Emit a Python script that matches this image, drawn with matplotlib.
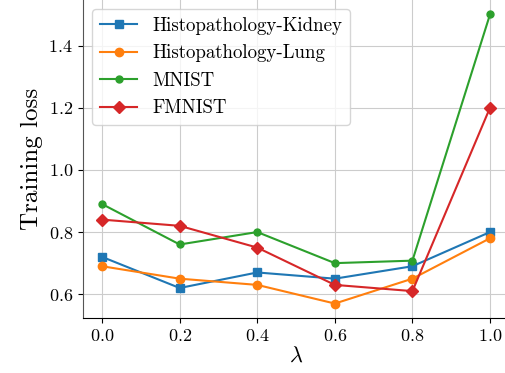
import matplotlib
matplotlib.use("Agg")
import matplotlib.pyplot as plt

plt.rcParams['font.family'] = 'serif'
plt.rcParams['font.serif'] = ['cmr10']
plt.rcParams['mathtext.fontset'] = 'cm'
plt.rcParams['axes.formatter.use_mathtext'] = True

lambdas = [0.0, 0.2, 0.4, 0.6, 0.8, 1.0]
kidney = [0.72, 0.62, 0.67, 0.65, 0.69, 0.80]
lung = [0.69, 0.65, 0.63, 0.57, 0.65, 0.78]
mnist = [0.89, 0.76, 0.80, 0.70, 0.708, 1.50]
fmnist = [0.84, 0.82, 0.75, 0.63, 0.61, 1.20]

fig = plt.figure(figsize=(5.06, 3.73), dpi=100)
ax = fig.add_axes([82.7 / 506, 55 / 373, 426.7 / 506, 318 / 373])

ax.plot(lambdas, kidney, marker='s', color='#1f77b4', label='Histopathology-Kidney')
ax.plot(lambdas, lung, marker='o', color='#ff7f0e', label='Histopathology-Lung')
ax.plot(lambdas, mnist, marker='o', markersize=5, color='#2ca02c', label='MNIST')
ax.plot(lambdas, fmnist, marker='D', color='#d62728', label='FMNIST')

ax.set_xlim(-0.05, 1.05)
ax.set_ylim(0.5235, 1.5465)
ax.set_xticks(lambdas)
ax.set_yticks([0.6, 0.8, 1.0, 1.2, 1.4])
ax.tick_params(labelsize=13)
ax.grid(True, color='#cccccc')
ax.set_axisbelow(True)
ax.spines['top'].set_visible(False)
ax.spines['right'].set_visible(False)
ax.spines['left'].set_color('#555555')

ax.set_xlabel(r'$\lambda$', fontsize=16, labelpad=2)
ax.set_ylabel('Training loss', fontsize=18)
ax.legend(loc='upper left', fontsize=13.6)

fig.savefig('out.png', dpi=100)
